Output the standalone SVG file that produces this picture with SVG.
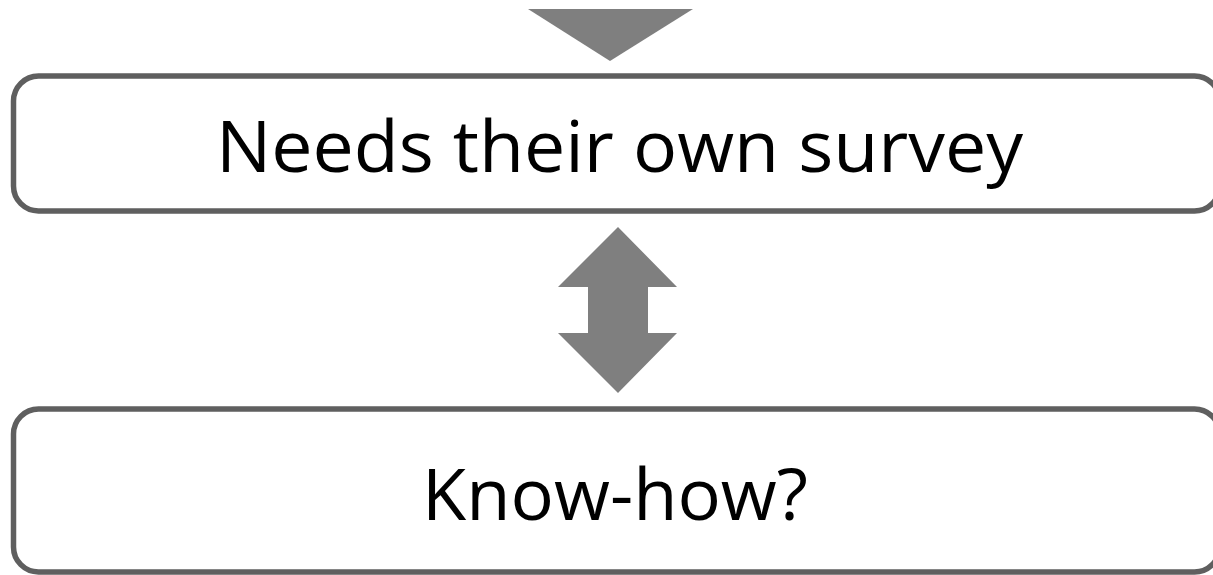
<svg xmlns="http://www.w3.org/2000/svg" width="1213" height="575" viewBox="0 0 1213 575">
  <style>
    .box { fill: #ffffff; stroke: #5f5f5f; stroke-width: 5.5; }
    .lbl { font-family: "Open Sans", "Liberation Sans", sans-serif; font-size: 72px; fill: #000000; text-anchor: middle; }
    .arrow { fill: #7f7f7f; stroke: none; }
  </style>
  <rect width="1213" height="575" fill="#ffffff"/>
  <g id="connectors">
    <polygon class="arrow" points="528,9 693,9 610,61"/>
    <polygon class="arrow" points="618,227 677,287 648,287 648,333 677,333 618,393 558,333 588,333 588,287 558,287"/>
  </g>
  <g id="node-survey">
    <rect class="box" x="13.5" y="76" width="1206" height="135" rx="25" ry="25"/>
    <text class="lbl" x="619.5" y="172" textLength="807" lengthAdjust="spacingAndGlyphs">Needs their own survey</text>
  </g>
  <g id="node-knowhow">
    <rect class="box" x="13.5" y="409" width="1206" height="163" rx="25" ry="25"/>
    <text class="lbl" x="615" y="520" textLength="386" lengthAdjust="spacingAndGlyphs">Know-how?</text>
  </g>
</svg>
